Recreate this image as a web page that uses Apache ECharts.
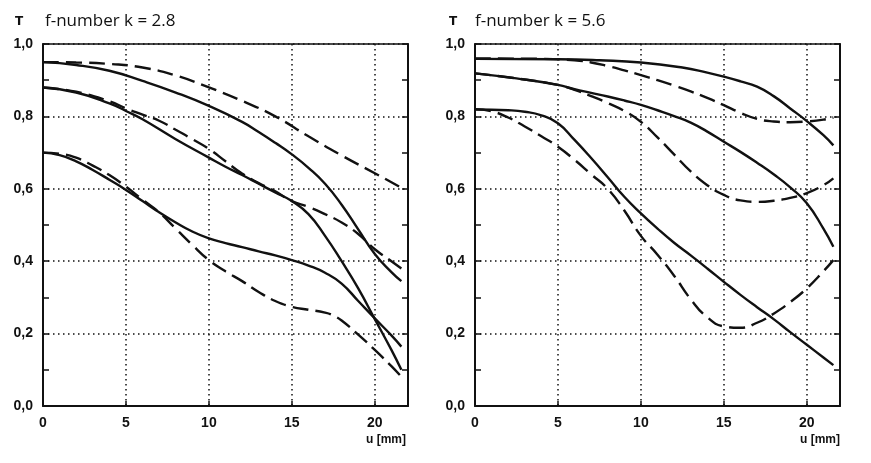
<!DOCTYPE html>
<html>
<head>
<meta charset="utf-8">
<script src="https://cdn.jsdelivr.net/npm/echarts@6/dist/echarts.min.js"></script>
<style>
html,body{margin:0;padding:0;background:#fff;}
#c{width:871px;height:463px;}
</style>
</head>
<body>
<div id="c"></div>
<script>
// ---- Data ----
const titleLeft = 'f-number k = 2.8';
const titleRight = 'f-number k = 5.6';
const yAxisTitle = 'T';
const xAxisTitle = 'u [mm]';
const xTicks = [0, 5, 10, 15, 20];
const yTicks = [0, 0.2, 0.4, 0.6, 0.8, 1.0];

// k = 2.8
const L_dashTop = [[0,0.95],[2,0.949],[4,0.945],[6,0.935],[8,0.913],[10,0.88],[12,0.843],[14,0.80],[16,0.745],[18,0.692],[20,0.643],[21.6,0.603]];
const L_solidTop = [[0,0.95],[2,0.942],[4,0.926],[6,0.898],[8,0.866],[10,0.829],[12,0.785],[13,0.757],[14,0.727],[15,0.695],[16,0.658],[17,0.614],[18,0.556],[19,0.488],[20,0.42],[21,0.37],[21.6,0.345]];
const L_solidMid = [[0,0.88],[2,0.866],[4,0.836],[5,0.815],[6,0.792],[8,0.737],[10,0.686],[11,0.661],[12,0.638],[13,0.614],[14,0.59],[15,0.566],[16,0.53],[17,0.47],[18,0.40],[19,0.325],[20,0.24],[21,0.155],[21.6,0.10]];
const L_dashMid = [[0,0.88],[2,0.868],[4,0.842],[5,0.822],[6,0.805],[7,0.788],[8,0.763],[9,0.737],[10,0.71],[11,0.676],[12,0.642],[13,0.616],[14,0.593],[15,0.566],[16,0.55],[17,0.53],[18,0.507],[19,0.475],[20,0.433],[21,0.4],[21.6,0.38]];
const L_solidLow = [[0,0.70],[1,0.693],[2,0.676],[3,0.652],[4,0.625],[5,0.597],[6,0.566],[7,0.535],[8,0.507],[9,0.482],[10,0.463],[11,0.45],[12,0.439],[13,0.427],[14,0.416],[15,0.403],[16,0.388],[17,0.368],[18,0.338],[19,0.29],[20,0.242],[21,0.195],[21.6,0.164]];
const L_dashLow = [[0,0.70],[1,0.697],[2,0.686],[3,0.664],[4,0.638],[5,0.606],[6,0.57],[7,0.535],[8,0.49],[9,0.445],[10,0.403],[11,0.372],[12,0.345],[13,0.315],[14,0.29],[15,0.274],[16,0.266],[17,0.258],[17.5,0.25],[18,0.236],[19,0.197],[20,0.155],[21,0.11],[21.6,0.081]];

// k = 5.6
const R_solidTop = [[0,0.959],[5,0.958],[7.5,0.955],[10,0.949],[12.5,0.935],[14,0.921],[15,0.91],[16,0.897],[17,0.882],[18,0.856],[19,0.822],[20,0.787],[21,0.748],[21.6,0.72]];
const R_dashTop = [[0,0.96],[4,0.959],[6,0.955],[7,0.949],[8,0.939],[9,0.927],[10,0.914],[11,0.9],[12,0.885],[13,0.869],[14,0.851],[15,0.831],[16,0.81],[17,0.793],[18,0.786],[19,0.784],[20,0.786],[21,0.791],[21.6,0.797]];
const R_solidMid = [[0,0.919],[2.5,0.905],[5,0.887],[6,0.875],[7,0.865],[8,0.855],[9,0.844],[10,0.832],[11,0.817],[12,0.801],[13,0.783],[14,0.758],[15,0.73],[16,0.702],[17,0.672],[18,0.64],[19,0.604],[20,0.56],[21,0.49],[21.6,0.44]];
const R_dashMid = [[0,0.919],[2.5,0.905],[5,0.887],[6,0.873],[7,0.856],[8,0.837],[9,0.815],[10,0.785],[11,0.742],[12,0.695],[13,0.648],[14,0.61],[15,0.583],[16,0.568],[17,0.564],[18,0.567],[19,0.575],[20,0.588],[21,0.61],[21.6,0.629]];
const R_solidLow = [[0,0.819],[2,0.817],[3,0.813],[4,0.803],[5,0.781],[6,0.735],[7,0.685],[8,0.632],[9,0.578],[10,0.532],[11,0.49],[12,0.451],[13,0.416],[14,0.38],[15,0.343],[16,0.307],[17,0.273],[18,0.24],[19,0.204],[20,0.169],[21,0.134],[21.6,0.113]];
const R_dashLow = [[0,0.82],[1,0.814],[2,0.797],[3,0.772],[4,0.745],[5,0.716],[6,0.68],[7,0.64],[8,0.6],[9,0.54],[10,0.47],[11,0.418],[12,0.36],[13,0.295],[14,0.245],[15,0.22],[16,0.216],[17,0.23],[18,0.255],[19,0.287],[20,0.325],[21,0.372],[21.6,0.403]];

// ---- Chart ----
const INK = '#111';
const gridDefs = [
  {left: 43, top: 44, width: 365, height: 362},
  {left: 475, top: 44, width: 365, height: 362}
];
const dotted = {color: INK, width: 1.5, type: [1.5, 3.5]};

function xAxes(gi) {
  return [
    {
      gridIndex: gi, type: 'value', min: 0, max: 22, interval: 5, position: 'bottom',
      axisLine: {show: true, onZero: false, lineStyle: {color: INK, width: 2}},
      axisTick: {show: true, inside: true, length: 5, lineStyle: {color: INK, width: 1.5}},
      axisLabel: {
        color: INK, fontFamily: 'Liberation Sans', fontWeight: 'bold', fontSize: 14, margin: 10,
        showMaxLabel: false,
        formatter: v => (xTicks.indexOf(v) >= 0 ? String(v) : '')
      },
      splitLine: {show: true, lineStyle: dotted}
    },
    {
      gridIndex: gi, type: 'value', min: 0, max: 22, position: 'top',
      axisLine: {show: true, onZero: false, lineStyle: {color: INK, width: 1.5}},
      axisTick: {show: false}, axisLabel: {show: false}, splitLine: {show: false}
    }
  ];
}
function yAxes(gi) {
  return [
    {
      gridIndex: gi, type: 'value', min: 0, max: 1, interval: 0.2, position: 'left',
      axisLine: {show: true, onZero: false, lineStyle: {color: INK, width: 2}},
      axisTick: {show: false},
      axisLabel: {
        color: INK, fontFamily: 'Liberation Sans', fontWeight: 'bold', fontSize: 14, margin: 10,
        formatter: v => (yTicks.some(t => Math.abs(t - v) < 1e-6) ? v.toFixed(1).replace('.', ',') : '')
      },
      splitLine: {show: true, lineStyle: dotted}
    },
    {
      gridIndex: gi, type: 'value', min: 0, max: 1, interval: 0.1, position: 'right',
      axisLine: {show: true, onZero: false, lineStyle: {color: INK, width: 2}},
      axisTick: {show: true, inside: true, length: 6, lineStyle: {color: INK, width: 1.5}},
      axisLabel: {show: false}, splitLine: {show: false}
    },
    {
      gridIndex: gi, type: 'value', min: 0, max: 1, interval: 0.1, position: 'left', offset: 0,
      axisLine: {show: false},
      axisTick: {show: true, inside: true, length: 6, lineStyle: {color: INK, width: 1.5}},
      axisLabel: {show: false}, splitLine: {show: false}
    }
  ];
}

function curve(data, gi, dashed) {
  return {
    type: 'line', data: data, xAxisIndex: gi * 2, yAxisIndex: gi * 3,
    smooth: 0.5, showSymbol: false, symbol: 'none', silent: true,
    lineStyle: {color: INK, width: 2.4, type: dashed ? [16, 7] : 'solid'},
    z: 5
  };
}

const chart = echarts.init(document.getElementById('c'), null, {renderer: 'canvas'});
chart.setOption({
  backgroundColor: '#fff',
  animation: false,
  grid: gridDefs,
  xAxis: [...xAxes(0), ...xAxes(1)],
  yAxis: [...yAxes(0), ...yAxes(1)],
  series: [
    curve(L_dashTop, 0, true), curve(L_solidTop, 0, false),
    curve(L_solidMid, 0, false), curve(L_dashMid, 0, true),
    curve(L_solidLow, 0, false), curve(L_dashLow, 0, true),
    curve(R_solidTop, 1, false), curve(R_dashTop, 1, true),
    curve(R_solidMid, 1, false), curve(R_dashMid, 1, true),
    curve(R_solidLow, 1, false), curve(R_dashLow, 1, true)
  ],
  graphic: [
    {type: 'text', left: 15, top: 16, style: {text: yAxisTitle, font: 'bold 12px "DejaVu Sans"', fill: INK}},
    {type: 'text', left: 45, top: 13, style: {text: titleLeft, font: '17px "Open Sans"', fill: INK}},
    {type: 'text', left: 449, top: 16, style: {text: yAxisTitle, font: 'bold 12px "DejaVu Sans"', fill: INK}},
    {type: 'text', left: 475, top: 13, style: {text: titleRight, font: '17px "Open Sans"', fill: INK}},
    {type: 'text', right: 465, top: 434, style: {text: xAxisTitle, font: 'bold 12px "Liberation Sans"', fill: INK}},
    {type: 'text', right: 31, top: 434, style: {text: xAxisTitle, font: 'bold 12px "Liberation Sans"', fill: INK}}
  ]
});
</script>
</body>
</html>
